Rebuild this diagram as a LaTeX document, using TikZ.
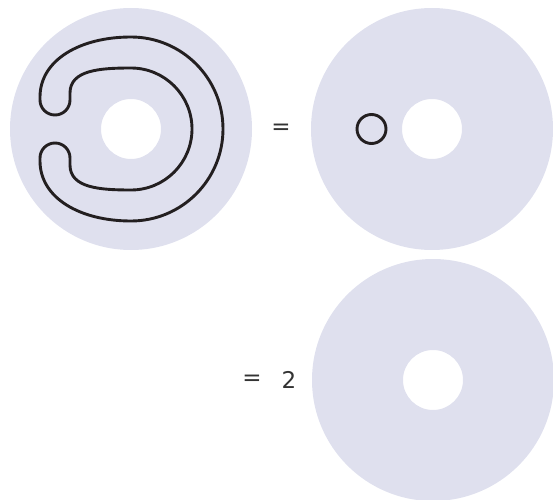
\documentclass[tikz,border=0pt]{standalone}
\usepackage{fontspec}
\setmainfont{DejaVu Sans}
\definecolor{diskfill}{RGB}{223,224,238}
\definecolor{loopline}{RGB}{35,31,32}
\begin{document}
\begin{tikzpicture}[x=1pt,y=1pt,
    disk/.style={fill=diskfill, even odd rule},
    loop/.style={draw=loopline, line width=2.9pt},
    eqlabel/.style={font=\fontsize{23}{28}\selectfont, text=black!80, inner sep=0pt}]
        \useasboundingbox (0,0) rectangle (553,499);

        % Define annuli
        \fill[disk] (131,370) circle (121) (131,370) circle (30);
        \fill[disk] (432,370) circle (121) (432,370) circle (30);
        \fill[disk] (433,119) circle (121) (433,119) circle (30);

        % Loop around the hole
        \begin{scope}[shift={(131,370)}]
        \draw[loop] (92,0) arc (0:90:92)
            .. controls (-51,92) and (-91,69) .. (-91,32) -- (-91,29)
            .. controls (-91,20.7) and (-84.3,14) .. (-76,14)
            .. controls (-67.7,14) and (-61,20.7) .. (-61,29) -- (-61,36)
            .. controls (-61,59) and (-31,61) .. (0,61)
            arc (90:-90:61)
            .. controls (-31,-61) and (-61,-59) .. (-61,-36) -- (-61,-29)
            .. controls (-61,-20.7) and (-67.7,-14) .. (-76,-14)
            .. controls (-84.3,-14) and (-91,-20.7) .. (-91,-29) -- (-91,-32)
            .. controls (-91,-69) and (-51,-92) .. (0,-92)
            arc (-90:0:92) -- cycle;
        \end{scope}

        % Small trivial loop
        \draw[loop] (371.5,370) circle (14.5);

        % Equations
        \node[eqlabel] (eqA) at (281,370) {=};
        \node[eqlabel] (eqB) at (252,119) {=};
        \node[eqlabel] (coef) at (289,119) {2};
    \end{tikzpicture}
\end{document}
